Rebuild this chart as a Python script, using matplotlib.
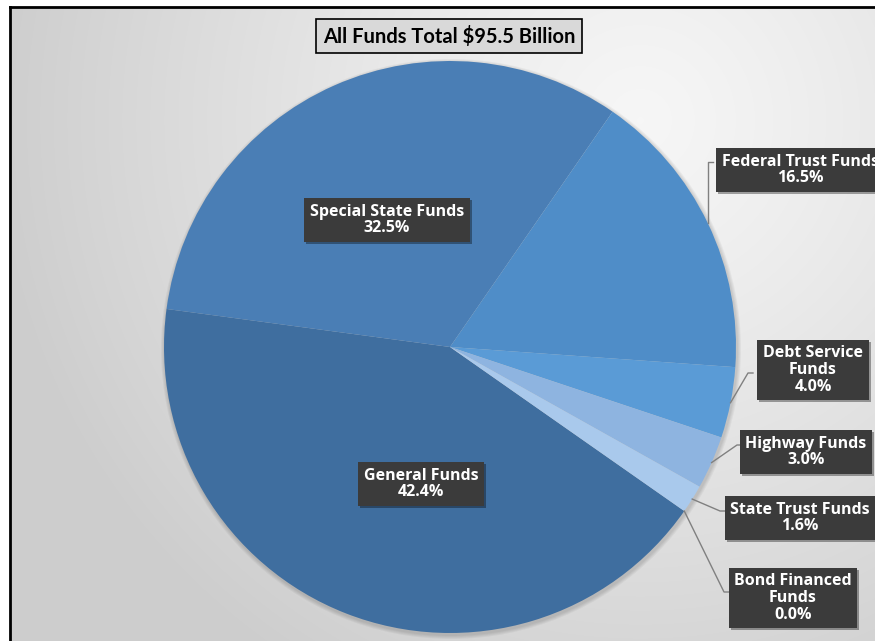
import numpy as np
import matplotlib.pyplot as plt
from matplotlib import patheffects as pe
from matplotlib.patches import Circle

# Fund shares of the total budget (percent)
categories = ["General Funds", "Special State Funds", "Federal Trust Funds",
              "Debt Service\nFunds", "Highway Funds", "State Trust Funds",
              "Bond Financed\nFunds"]
shares = [42.4, 32.5, 16.5, 4.0, 3.0, 1.6, 0.0]
colors = ["#3F6E9F", "#4A7EB5", "#4F8DC8", "#5A9BD6", "#8EB4E0", "#A9C9EC", "#BBD3EE"]
title = "All Funds Total $95.5 Billion"

W, H = 875, 641
plt.rcParams['font.family'] = ['Lato', 'DejaVu Sans']

fig = plt.figure(figsize=(W / 100, H / 100), dpi=100)
ax = fig.add_axes([0, 0, 1, 1])

# light grey radial backdrop inside the frame
yy, xx = np.mgrid[0:H, 0:W]
d = np.hypot(xx - 640, yy - 120)
shade = 0.965 - 0.16 * np.clip(d / 650, 0, 1) ** 1.2
bg = np.dstack([shade] * 3)
bg[:7, :, :] = 1.0
bg[:, :10, :] = 1.0
ax.imshow(bg, extent=(0, W, 0, H), origin='upper', zorder=0, interpolation='bilinear')
ax.plot([10, 10], [0, H - 7], color='black', lw=2, zorder=1)
ax.plot([10, W], [H - 7, H - 7], color='black', lw=2, zorder=1)

cx, cy, r = 450, H - 347, 286

# soft shadow under the pie
for i, a in enumerate([0.04, 0.04, 0.04, 0.04]):
    ax.add_patch(Circle((cx + 1, cy - 2), r + 4 - i, color='black', alpha=a, lw=0, zorder=1))

wedges, _ = ax.pie(shares, colors=colors, startangle=-35, counterclock=False,
                   center=(cx, cy), radius=r, frame=True,
                   wedgeprops=dict(linewidth=0))
for w in wedges:
    w.set_zorder(2)

box_kw = dict(boxstyle='square,pad=0.35', fc='#3B3B3B', ec='none')
txt_kw = dict(color='white', fontsize=11.5, fontweight='bold', ha='center', va='center',
              family=['Open Sans', 'DejaVu Sans'], linespacing=1.05, zorder=5)
shadow = [pe.withSimplePatchShadow(offset=(1.5, -1.5), shadow_rgbFace='black', alpha=0.35)]


def label_text(i):
    return f"{categories[i]}\n{shares[i]:.1f}%"


def put_label(i, x, y):
    t = ax.text(x, H - y, label_text(i), bbox=box_kw, **txt_kw)
    t.get_bbox_patch().set_path_effects(shadow)
    return t


# labels inside the two large wedges
put_label(1, 387, 220)
put_label(0, 421, 484)

# labels outside with leader lines: (index, label centre, elbow point, box edge)
outside = [
    (2, (800, 170), None, (713, 162)),
    (3, (813, 370), (748, 373), (753, 373)),
    (4, (806, 452), (737, 445), (741, 445)),
    (5, (800, 518), (720, 511), (726, 511)),
    (6, (793, 598), (724, 592), (730, 592)),
]
for i, c, elbow, end in outside:
    w = wedges[i]
    mid = np.deg2rad((w.theta1 + w.theta2) / 2)
    ex, ey = cx + r * np.cos(mid), cy + r * np.sin(mid)
    if elbow is None:
        xs = [ex, ex, end[0]]
        ys = [ey, H - end[1], H - end[1]]
    else:
        xs = [ex, elbow[0], end[0]]
        ys = [ey, H - elbow[1], H - end[1]]
    ax.plot(xs, ys, color='#808080', lw=1, zorder=3)
    put_label(i, *c)

# title box
ax.text(449, H - 36, title, fontsize=14.5, fontweight='bold', color='black',
        ha='center', va='center', zorder=6,
        bbox=dict(boxstyle='square,pad=0.32', fc='#D9D9D9', ec='black', lw=1.2))

ax.set_xlim(0, W)
ax.set_ylim(0, H)
ax.set_aspect('auto')
ax.axis('off')
fig.savefig('out.png', dpi=100)
